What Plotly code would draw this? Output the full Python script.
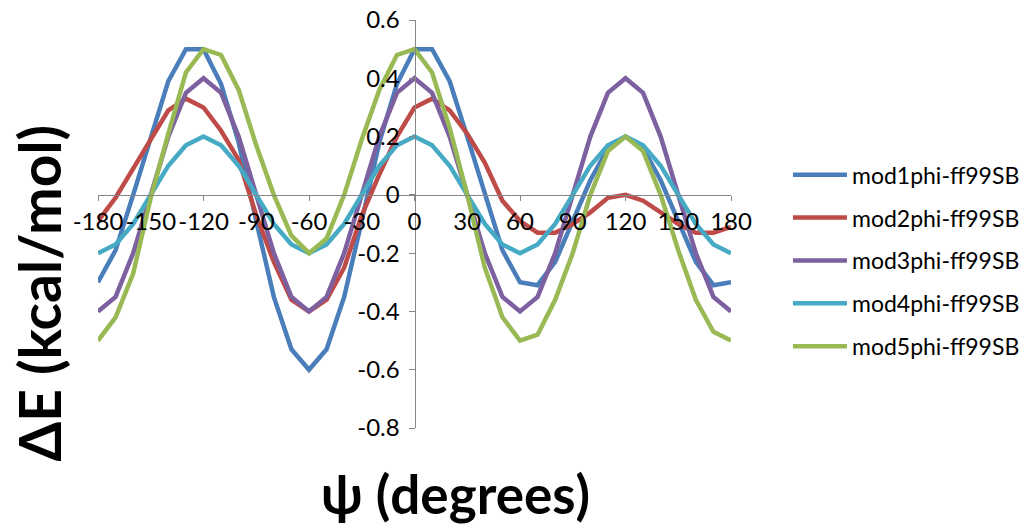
import plotly.graph_objects as go

# x categories (degrees)
psi = [-180, -170, -160, -150, -140, -130, -120, -110, -100, -90, -80, -70, -60,
       -50, -40, -30, -20, -10, 0, 10, 20, 30, 40, 50, 60, 70, 80, 90, 100, 110,
       120, 130, 140, 150, 160, 170, 180]

mod1 = [-0.30, -0.19, 0.00, 0.20, 0.39, 0.50, 0.50, 0.38, 0.18, -0.09, -0.35, -0.53, -0.60,
        -0.53, -0.35, -0.09, 0.18, 0.38, 0.50, 0.50, 0.39, 0.20, 0.00, -0.19, -0.30,
        -0.31, -0.23, -0.09, 0.05, 0.16, 0.20, 0.16, 0.05, -0.09, -0.23, -0.31, -0.30]
mod2 = [-0.09, -0.01, 0.09, 0.19, 0.29, 0.33, 0.30, 0.22, 0.12, -0.07, -0.23, -0.36, -0.40,
        -0.36, -0.25, -0.07, 0.07, 0.20, 0.30, 0.33, 0.29, 0.21, 0.11, -0.02, -0.09,
        -0.13, -0.13, -0.10, -0.06, -0.01, 0.00, -0.02, -0.06, -0.10, -0.13, -0.13, -0.11]
mod3 = [-0.40, -0.35, -0.20, 0.00, 0.20, 0.35, 0.40, 0.35, 0.20, 0.00, -0.20, -0.35, -0.40,
        -0.35, -0.20, 0.00, 0.20, 0.35, 0.40, 0.35, 0.20, 0.00, -0.20, -0.35, -0.40,
        -0.35, -0.20, 0.00, 0.20, 0.35, 0.40, 0.35, 0.20, 0.00, -0.20, -0.35, -0.40]
mod4 = [-0.20, -0.17, -0.10, 0.00, 0.10, 0.17, 0.20, 0.17, 0.10, 0.00, -0.10, -0.17, -0.20,
        -0.17, -0.10, 0.00, 0.10, 0.17, 0.20, 0.17, 0.10, 0.00, -0.10, -0.17, -0.20,
        -0.17, -0.10, 0.00, 0.10, 0.17, 0.20, 0.17, 0.10, 0.00, -0.10, -0.17, -0.20]
mod5 = [-0.50, -0.42, -0.27, -0.01, 0.21, 0.42, 0.50, 0.48, 0.36, 0.17, 0.00, -0.14, -0.20,
        -0.15, 0.00, 0.19, 0.36, 0.48, 0.50, 0.42, 0.23, 0.00, -0.25, -0.42, -0.50,
        -0.48, -0.36, -0.20, 0.00, 0.15, 0.20, 0.15, 0.00, -0.19, -0.36, -0.47, -0.50]

series_names = ["mod1phi-ff99SB", "mod2phi-ff99SB", "mod3phi-ff99SB",
                "mod4phi-ff99SB", "mod5phi-ff99SB"]
series_colors = ["#4A7EBB", "#BE4B48", "#7D60A0", "#46AAC5", "#98B954"]

x_tickvals = [-180, -150, -120, -90, -60, -30, 0, 30, 60, 90, 120, 150, 180]
x_ticktext = ["-180", "-150", "-120", "-90", "-60", "-30", "0", "30", "60", "90",
              "120", "150", "180"]
x_markvals = [-180, -120, -60, 0, 60, 120, 180]
y_tickvals = [0.6, 0.4, 0.2, 0, -0.2, -0.4, -0.6, -0.8]
y_ticktext = ["0.6", "0.4", "0.2", "0", "-0.2", "-0.4", "-0.6", "-0.8"]

x_title = "ψ (degrees)"
y_title = "ΔE (kcal/mol)"

FONT = "Lato"
AXIS_COLOR = "#868686"
TICK_SIZE = 24

fig = go.Figure()
for name, vals, col in zip(series_names, [mod1, mod2, mod3, mod4, mod5], series_colors):
    fig.add_trace(go.Scatter(x=psi, y=vals, mode="lines", name=name,
                             legendgroup=name,
                             line=dict(color=col, width=4.5)))

# overlay axis only for the tick marks (every 60 degrees)
fig.add_trace(go.Scatter(x=psi, y=mod1, mode="lines", xaxis="x2", showlegend=False,
                         hoverinfo="skip", line=dict(color="rgba(0,0,0,0)", width=0)))

y_zero_frac = (0 - (-0.8)) / (0.6 - (-0.8))

fig.update_layout(
    width=1027, height=531,
    margin=dict(l=97.5, r=296, t=20, b=103, autoexpand=False),
    paper_bgcolor="white", plot_bgcolor="white",
    font=dict(family=FONT, color="black", size=TICK_SIZE),
    xaxis=dict(range=[-180, 180], domain=[0, 1], anchor="free", position=y_zero_frac,
               tickmode="array", tickvals=x_tickvals, ticktext=x_ticktext,
               tickangle=0,
               ticks="outside", ticklen=5, tickcolor="rgba(0,0,0,0)",
               showline=True, linecolor=AXIS_COLOR, linewidth=1,
               showgrid=False, zeroline=False,
               tickfont=dict(family=FONT, size=TICK_SIZE, color="black")),
    xaxis2=dict(range=[-180, 180], overlaying="x", anchor="free", position=y_zero_frac,
                tickmode="array", tickvals=x_markvals, ticks="outside", ticklen=5,
                tickcolor=AXIS_COLOR, tickwidth=1, showticklabels=False,
                showline=False, showgrid=False, zeroline=False),
    yaxis=dict(range=[-0.8, 0.6], domain=[0, 1], anchor="free", position=0.5,
               tickmode="array", tickvals=y_tickvals, ticktext=y_ticktext,
               ticks="outside", ticklen=6, tickcolor=AXIS_COLOR, tickwidth=1,
               ticklabelstandoff=4,
               showline=True, linecolor=AXIS_COLOR, linewidth=1,
               showgrid=False, zeroline=False,
               tickfont=dict(family=FONT, size=TICK_SIZE, color="black")),
    legend=dict(x=1.09, xanchor="left", y=0.41, yanchor="middle",
                font=dict(family=FONT, size=23, color="black"),
                tracegroupgap=10, itemwidth=54, bgcolor="rgba(0,0,0,0)"),
    showlegend=True,
    annotations=[
        dict(text="<b>" + y_title + "</b>", xref="paper", yref="paper",
             x=-0.093, y=0.33, xanchor="center", yanchor="middle", textangle=-90,
             showarrow=False, font=dict(family=FONT, size=57, color="black")),
        dict(text="<b>" + x_title + "</b>", xref="paper", yref="paper",
             x=0.564, y=-0.079, xanchor="center", yanchor="top",
             showarrow=False, font=dict(family=FONT, size=53, color="black")),
    ],
)

fig.write_html("out.html")
